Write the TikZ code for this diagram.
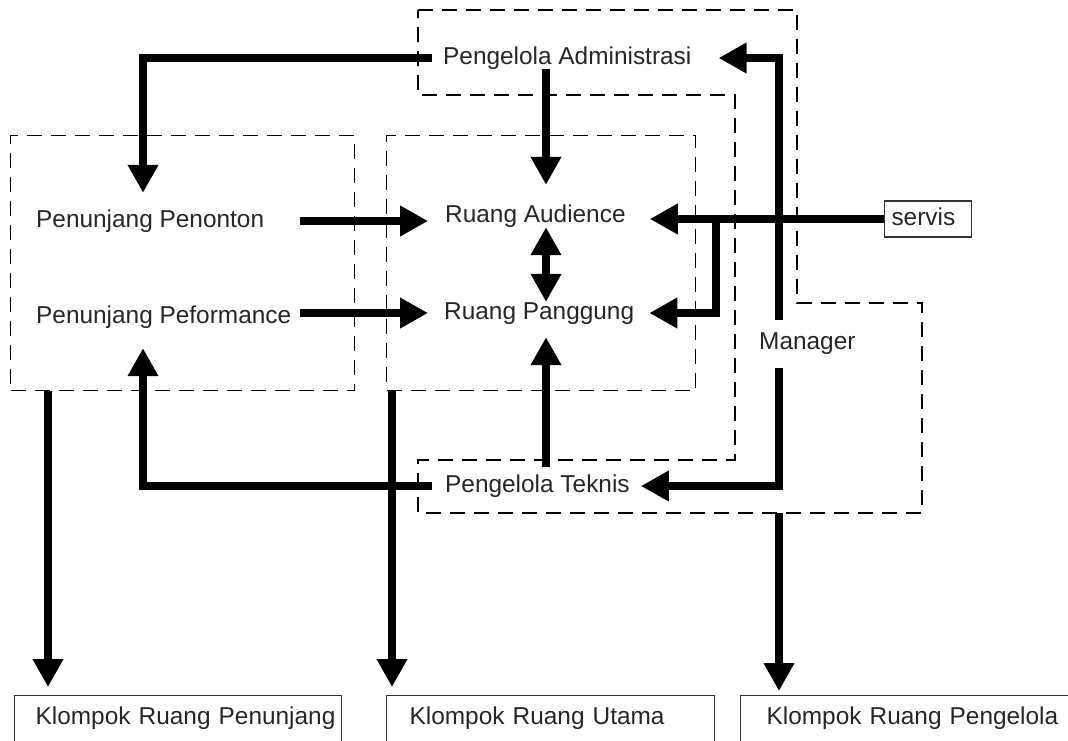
\documentclass[tikz,border=0pt]{standalone}
\usepackage{fontspec}
\setmainfont{Liberation Sans}
\usepackage{tikz}
\usetikzlibrary{arrows.meta,positioning}

\begin{document}
\begin{tikzpicture}[
  x=1pt, y=-1pt,
  >={Triangle[length=28pt,width=29pt]},
  lbl/.style={inner sep=0pt, anchor=base west, text height=17pt, text depth=5pt,
    font=\fontsize{24.4pt}{29pt}\selectfont, text=black!85},
  grp/.style={draw, dash pattern=on 15pt off 9pt, line width=1.3pt},
  kbox/.style={draw=black!80, line width=1.3pt, anchor=north west, minimum height=46pt,
    inner xsep=0pt, align=left, text height=17pt, text depth=5pt,
    font=\fontsize{24.4pt}{29pt}\selectfont, text=black!85},
  arr/.style={->, line width=8pt},
  dbl/.style={<->, line width=8pt}
]
\useasboundingbox (0,0) rectangle (1068,740);

% groups
\node[grp, minimum width=344pt, minimum height=255pt, anchor=north west] (gpen) at (10,135) {};
\node[grp, minimum width=309pt, minimum height=255pt, anchor=north west] (gutm) at (386,135) {};
\draw[grp] (418,10) -- (797,10) -- (797,303) -- (922,303) -- (922,513) -- (418,513)
  -- (418,460) -- (735,460) -- (735,95) -- (418,95) -- cycle;

% rooms
\node[lbl] (adm) at (443,64) {Pengelola Administrasi};
\node[lbl] (penon) at (36,227) {Penunjang Penonton};
\node[lbl] (perf) at (36,323) {Penunjang Peformance};
\node[lbl] (aud) at (445,222) {Ruang Audience};
\node[lbl] (pang) at (444,319) {Ruang Panggung};
\node[lbl] (mgr) at (759,349) {Manager};
\node[lbl] (tek) at (445,492) {Pengelola Teknis};
\node[draw=black!80, line width=1.3pt, minimum height=36pt, inner xsep=7pt,
  text width=73pt, align=left, text height=15pt, text depth=3pt,
  font=\fontsize{24.4pt}{29pt}\selectfont, text=black!85] (servis) at (928,219) {servis};

% room groups
\node[kbox, text width=327pt] (kpen) at (14,695) {\hspace*{21pt}Klompok Ruang Penunjang};
\node[kbox, text width=328pt] (kutm) at (386,695) {\hspace*{23pt}Klompok Ruang Utama};
\node[kbox, text width=340pt] (kpgl) at (740,695) {\hspace*{26pt}Klompok Ruang Pengelola};

\coordinate (lspine) at (143,0);
\coordinate (cspine) at (546,0);
\coordinate (mspine) at (779,0);
\coordinate (tee) at (716,219);
\coordinate (gpgl) at (779,513);

% flows
\draw[arr] ([xshift=-11pt]adm.west) -| ([yshift=17pt]penon.north -| lspine);
\draw[arr] (adm.south -| cspine) -- ([yshift=20pt]aud.north -| cspine);
\draw[dbl] (aud.south -| cspine) -- (pang.north -| cspine);
\draw[arr] ([yshift=8pt]tek.north -| cspine) -- ([yshift=-13pt]pang.south -| cspine);
\draw[arr] ([xshift=-13pt]tek.west) -| ([yshift=-20pt]perf.south -| lspine);
\draw[arr] ([xshift=36pt]penon.east) -- ([xshift=-17pt]aud.west |- penon.east);
\draw[arr] ([xshift=9pt]perf.east |- pang.west) -- ([xshift=-16pt]pang.west);
\draw[arr] (servis.west) -- ([xshift=24pt]aud.east |- servis.west);
\draw[arr] (tee) |- ([xshift=15pt]pang.east);
\draw[arr] ([yshift=12pt]mgr.north -| mspine) |- ([xshift=27pt]adm.east);
\draw[arr] ([yshift=-14pt]mgr.south -| mspine) |- ([xshift=11pt]tek.east);
\draw[arr] ([xshift=38pt]gpen.south west) -- ([xshift=34pt,yshift=8pt]kpen.north west);
\draw[arr] ([xshift=6pt]gutm.south west) -- ([xshift=6pt,yshift=8pt]kutm.north west);
\draw[arr] (gpgl) -- ([yshift=4pt]kpgl.north -| mspine);
\end{tikzpicture}
\end{document}
